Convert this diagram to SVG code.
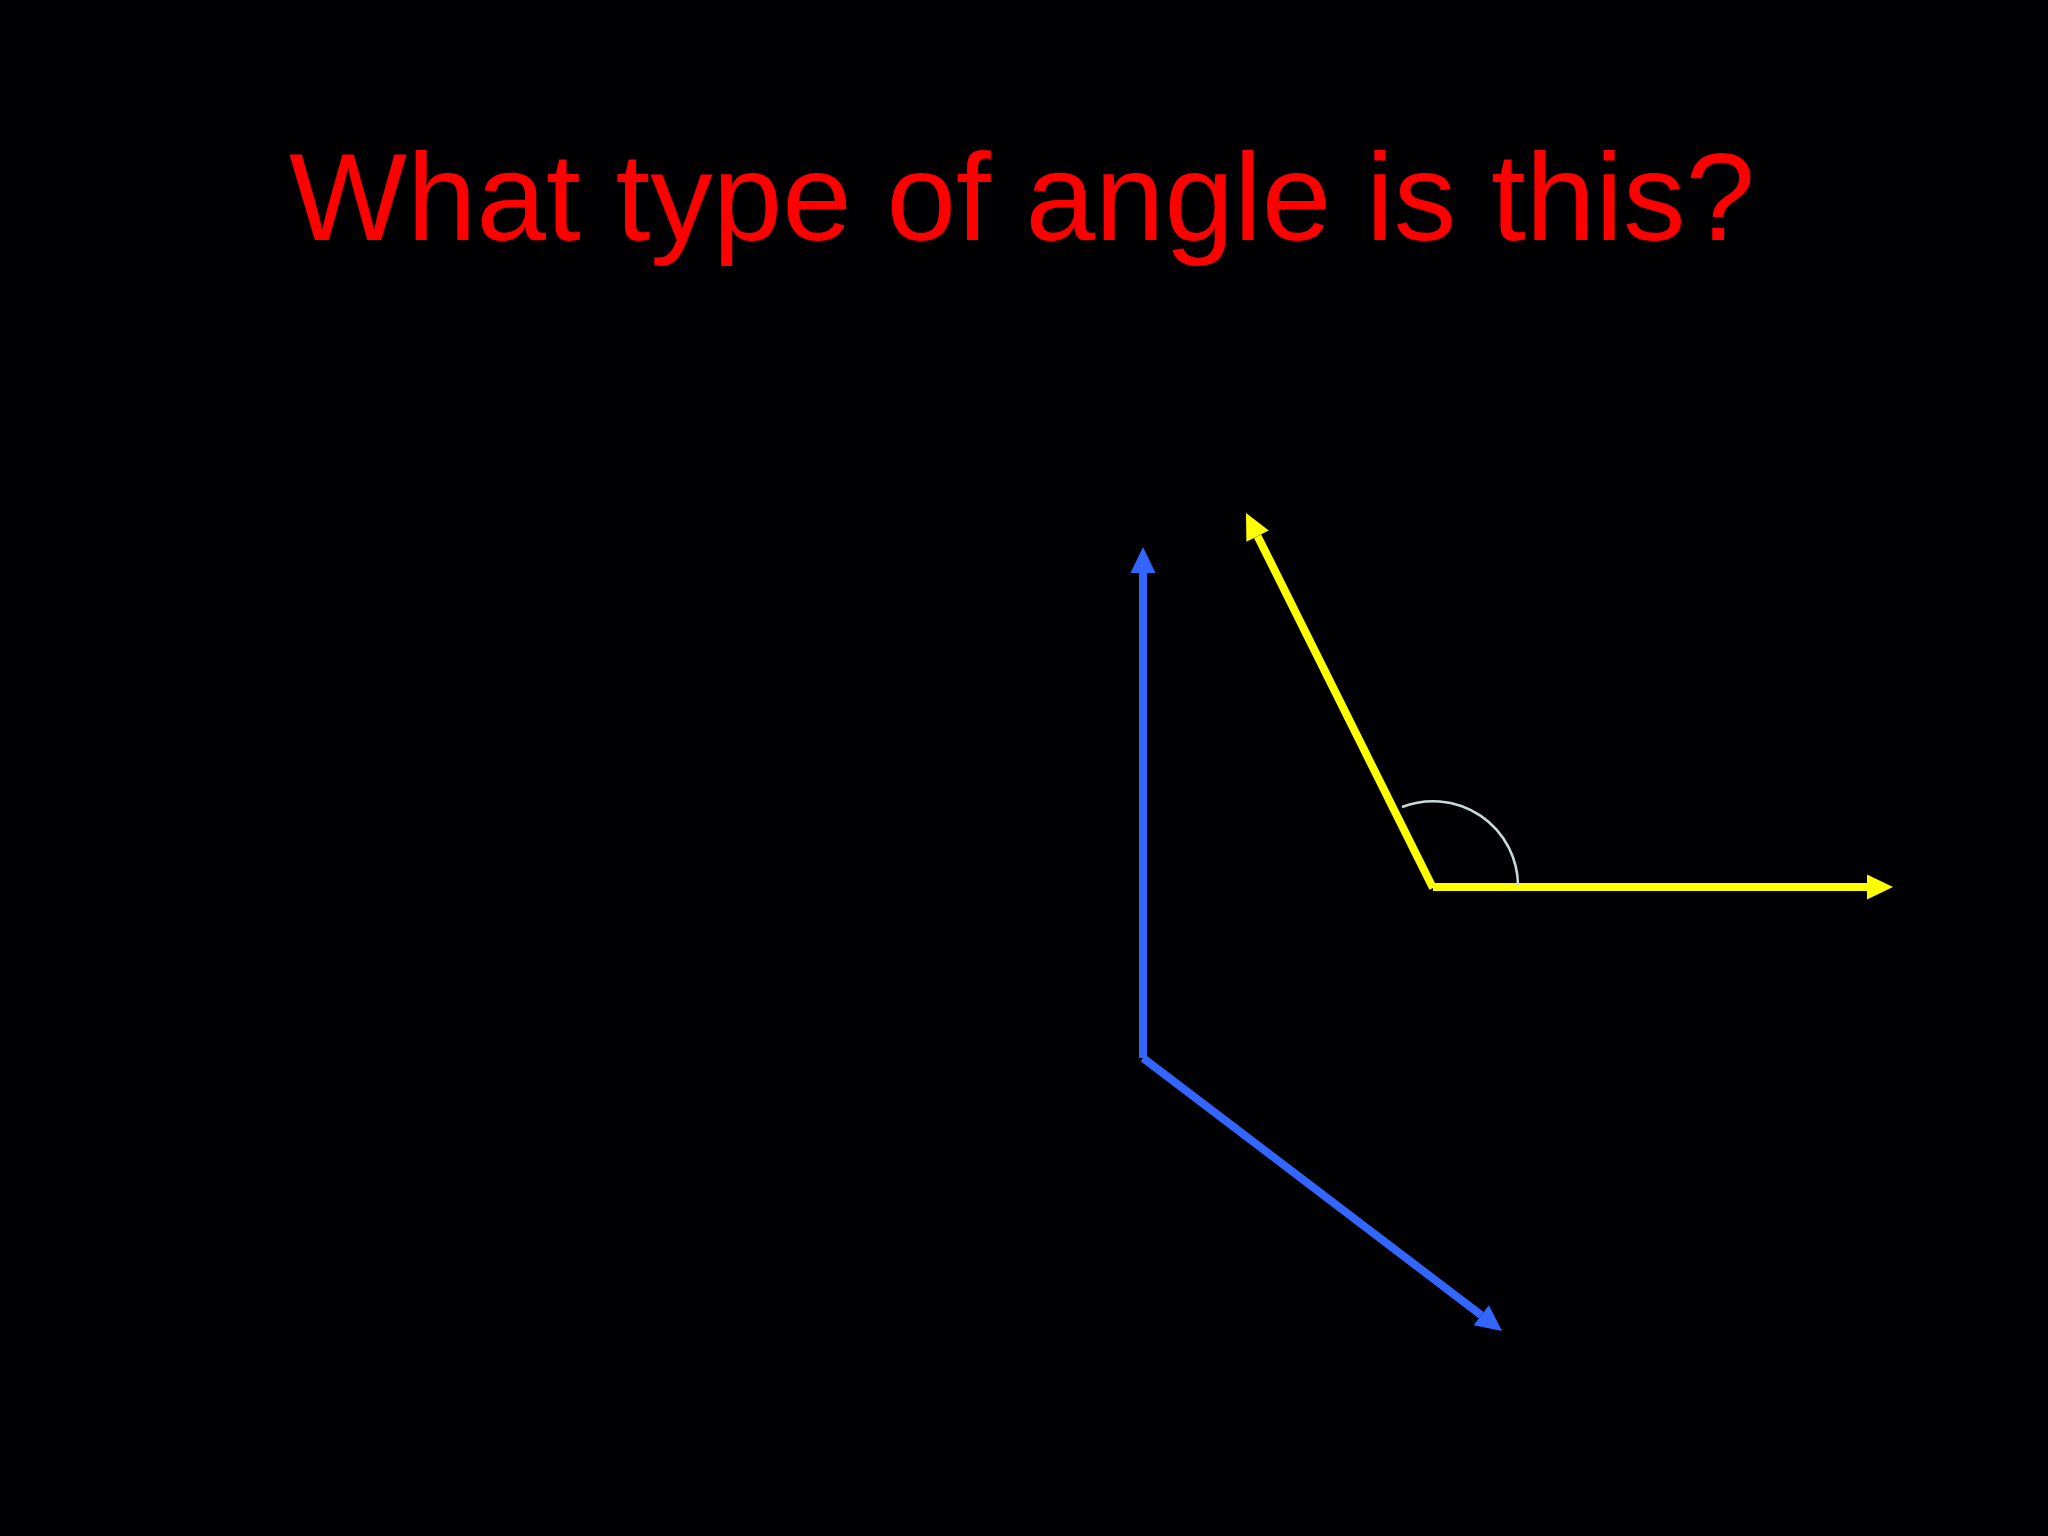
<svg xmlns="http://www.w3.org/2000/svg" width="2048" height="1536" viewBox="0 0 2048 1536">
<defs>
<style>
.title{font-family:"Liberation Sans",Arial,sans-serif;font-size:125px;fill:#ff0000}
.y{stroke:#ffff00;stroke-width:8;fill:none}
.b{stroke:#3366ff;stroke-width:8;fill:none}
.arc{stroke:#c8dcdc;stroke-width:2.5;fill:none}
</style>
<marker id="ay" markerUnits="userSpaceOnUse" markerWidth="30" markerHeight="30" refX="0" refY="0" orient="auto" viewBox="0 -15 30 30" overflow="visible">
<path d="M0,-12.5 L26,0 L0,12.5 z" fill="#ffff00"/>
</marker>
<marker id="ab" markerUnits="userSpaceOnUse" markerWidth="30" markerHeight="30" refX="0" refY="0" orient="auto" viewBox="0 -15 30 30" overflow="visible">
<path d="M0,-12.5 L26,0 L0,12.5 z" fill="#3366ff"/>
</marker>
</defs>
<rect width="2048" height="1536" fill="#000003"/>
<g id="title"><text class="title" x="289" y="240">What type of angle is this?</text></g>
<g id="connectors">
<line class="y" x1="1433" y1="887" x2="1867" y2="887" marker-end="url(#ay)"/>
<line class="y" x1="1433" y1="888" x2="1257.6" y2="536.2" marker-end="url(#ay)"/>
<path class="arc" d="M1402,807 A85,85 0 0 1 1518,885"/>
<line class="b" x1="1143" y1="1058" x2="1143" y2="573" marker-end="url(#ab)"/>
<line class="b" x1="1143" y1="1058" x2="1481.3" y2="1315.2" marker-end="url(#ab)"/>
</g>
</svg>
